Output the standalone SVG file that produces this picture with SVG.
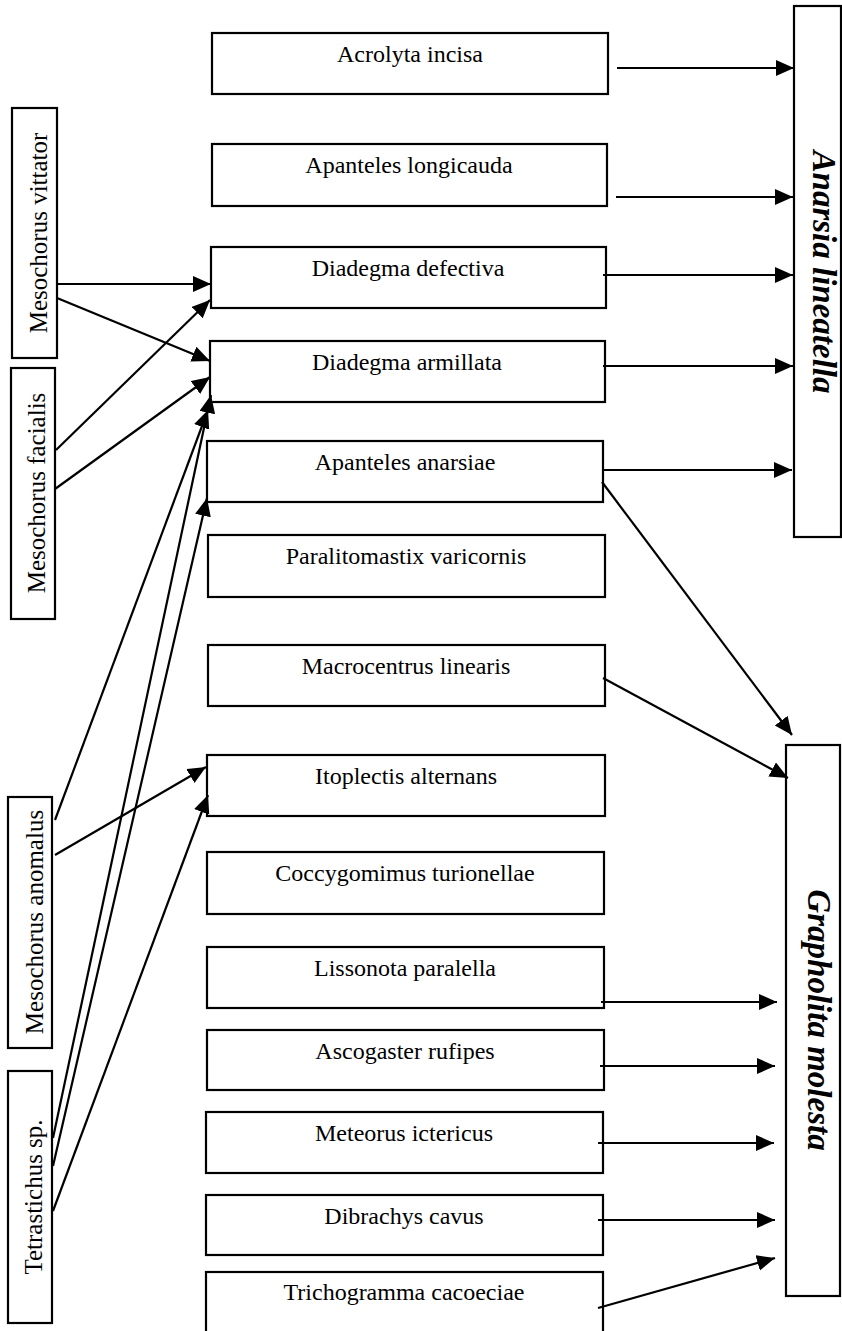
<svg xmlns="http://www.w3.org/2000/svg" width="842" height="1331" viewBox="0 0 842 1331">
<defs>
<marker id="ah" markerUnits="userSpaceOnUse" markerWidth="20" markerHeight="18" refX="18" refY="8" orient="auto">
<path d="M0,0 L18,8 L0,16 z" fill="#000"/>
</marker>
<style>
.box{fill:#fff;stroke:#000;stroke-width:2.2}
.t{font-family:"Liberation Serif","Times New Roman",serif;font-size:24px;fill:#000;text-anchor:middle}
.lt{font-family:"Liberation Serif","Times New Roman",serif;font-size:25px;fill:#000;text-anchor:middle}
.host{font-family:"Liberation Serif","Times New Roman",serif;font-size:33px;font-weight:bold;font-style:italic;fill:#000;text-anchor:middle}
.c line{stroke:#000;stroke-width:2.2;marker-end:url(#ah)}
</style>
</defs>
<rect width="842" height="1331" fill="#fff"/>

<g id="anarsia"><rect class="box" x="794" y="6" width="47" height="531"/><text class="host" transform="translate(813,272) rotate(90)">Anarsia lineatella</text></g>
<g id="grapholita"><rect class="box" x="786" y="745" width="54" height="551"/><text class="host" transform="translate(808,1020) rotate(90)">Grapholita molesta</text></g>

<g id="m-vittator"><rect class="box" x="12" y="108" width="45" height="250"/><text class="lt" transform="translate(47,233) rotate(-90)">Mesochorus vittator</text></g>
<g id="m-facialis"><rect class="box" x="11" y="368" width="44" height="251"/><text class="lt" transform="translate(45,493) rotate(-90)">Mesochorus facialis</text></g>
<g id="m-anomalus"><rect class="box" x="8" y="797" width="44" height="251"/><text class="lt" transform="translate(43,922) rotate(-90)">Mesochorus anomalus</text></g>
<g id="tetrastichus"><rect class="box" x="8" y="1071" width="44" height="252"/><text class="lt" transform="translate(42,1197) rotate(-90)">Tetrastichus sp.</text></g>

<g id="acrolyta"><rect class="box" x="212" y="33" width="396" height="61"/><text class="t" x="410" y="62">Acrolyta incisa</text></g>
<g id="a-longicauda"><rect class="box" x="212" y="144" width="395" height="62"/><text class="t" x="409" y="173">Apanteles longicauda</text></g>
<g id="d-defectiva"><rect class="box" x="211" y="247" width="395" height="61"/><text class="t" x="408" y="276">Diadegma defectiva</text></g>
<g id="d-armillata"><rect class="box" x="210" y="341" width="395" height="61"/><text class="t" x="407" y="370">Diadegma armillata</text></g>
<g id="a-anarsiae"><rect class="box" x="207" y="441" width="396" height="61"/><text class="t" x="405" y="470">Apanteles anarsiae</text></g>
<g id="paralitomastix"><rect class="box" x="208" y="535" width="397" height="62"/><text class="t" x="406" y="564">Paralitomastix varicornis</text></g>
<g id="macrocentrus"><rect class="box" x="208" y="645" width="397" height="61"/><text class="t" x="406" y="674">Macrocentrus linearis</text></g>
<g id="itoplectis"><rect class="box" x="207" y="755" width="398" height="61"/><text class="t" x="406" y="784">Itoplectis alternans</text></g>
<g id="coccygomimus"><rect class="box" x="207" y="852" width="397" height="62"/><text class="t" x="405" y="881">Coccygomimus turionellae</text></g>
<g id="lissonota"><rect class="box" x="207" y="947" width="397" height="61"/><text class="t" x="405" y="976">Lissonota paralella</text></g>
<g id="ascogaster"><rect class="box" x="207" y="1030" width="397" height="60"/><text class="t" x="405" y="1059">Ascogaster rufipes</text></g>
<g id="meteorus"><rect class="box" x="206" y="1112" width="397" height="61"/><text class="t" x="404" y="1141">Meteorus ictericus</text></g>
<g id="dibrachys"><rect class="box" x="206" y="1195" width="397" height="60"/><text class="t" x="404" y="1224">Dibrachys cavus</text></g>
<g id="trichogramma"><rect class="box" x="206" y="1272" width="397" height="70"/><text class="t" x="404" y="1300">Trichogramma cacoeciae</text></g>

<g id="connectors" class="c">
<line x1="617" y1="68" x2="794" y2="68"/>
<line x1="616" y1="197" x2="793" y2="197"/>
<line x1="603" y1="275" x2="793" y2="275"/>
<line x1="603" y1="366" x2="793" y2="366"/>
<line x1="602" y1="470" x2="792" y2="470"/>
<line x1="602" y1="482" x2="792" y2="735"/>
<line x1="603" y1="678" x2="788" y2="778"/>
<line x1="601" y1="1002" x2="777" y2="1002"/>
<line x1="600" y1="1066" x2="775" y2="1066"/>
<line x1="598" y1="1143" x2="774" y2="1143"/>
<line x1="598" y1="1220" x2="775" y2="1220"/>
<line x1="598" y1="1308" x2="775" y2="1258"/>
<line x1="57" y1="284" x2="211" y2="284"/>
<line x1="57" y1="298" x2="210" y2="361"/>
<line x1="56" y1="450" x2="210" y2="300"/>
<line x1="55" y1="489" x2="210" y2="377"/>
<line x1="55" y1="820" x2="208" y2="410"/>
<line x1="53" y1="1138" x2="211" y2="395"/>
<line x1="53" y1="1166" x2="207" y2="498"/>
<line x1="55" y1="855" x2="206" y2="767"/>
<line x1="53" y1="1211" x2="208" y2="795"/>
</g>
</svg>
